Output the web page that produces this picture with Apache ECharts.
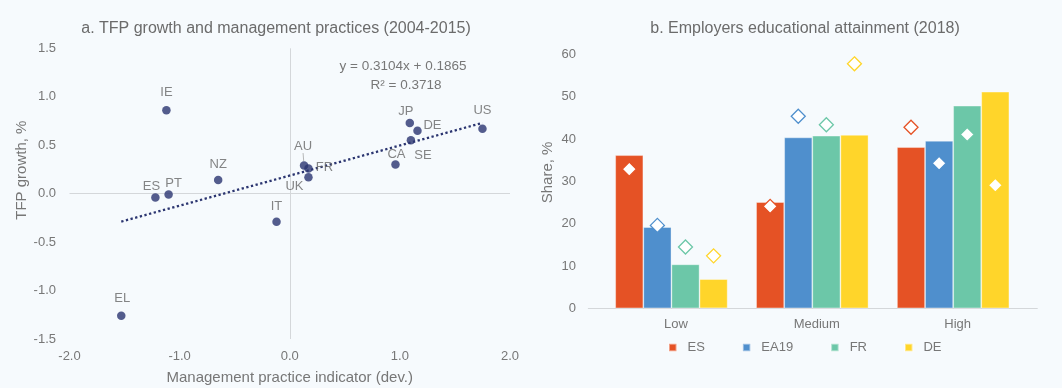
<!DOCTYPE html>
<html>
<head>
<meta charset="utf-8">
<script src="https://cdn.jsdelivr.net/npm/echarts@6/dist/echarts.min.js"></script>
<style>
  html, body { margin: 0; padding: 0; background: #F6FAFD; }
  #chart { width: 1062px; height: 388px; }
</style>
</head>
<body>
<div id="chart"></div>
<script>
// Panel a: countries, management practice indicator (dev.) and TFP growth (%)
const countries = ['IE', 'NZ', 'ES', 'PT', 'IT', 'EL', 'AU', 'FR', 'UK', 'CA', 'JP', 'DE', 'SE', 'US'];
const mgmtIndex = [-1.12, -0.65, -1.22, -1.10, -0.12, -1.53, 0.13, 0.17, 0.17, 0.96, 1.09, 1.16, 1.10, 1.75];
const tfpGrowth = [0.86, 0.14, -0.04, -0.01, -0.29, -1.26, 0.29, 0.26, 0.17, 0.30, 0.73, 0.65, 0.55, 0.67];
const trendSlope = 0.3104;
const trendIntercept = 0.1865;
const trendR2 = 0.3718;

// Panel b: employers' educational attainment shares (bars) and diamond markers
const levels = ['Low', 'Medium', 'High'];
const regions = ['ES', 'EA19', 'FR', 'DE'];
const barES = [36.2, 25.1, 38.1];
const barEA19 = [19.2, 40.4, 39.6];
const barFR = [10.4, 40.8, 47.9];
const barDE = [6.9, 41.0, 51.2];
const dotES = [32.9, 24.1, 42.8];
const dotEA19 = [19.6, 45.4, 34.3];
const dotFR = [14.5, 43.4, 41.1];
const dotDE = [12.4, 57.8, 29.1];

const barValues = [barES, barEA19, barFR, barDE];
const dotValues = [dotES, dotEA19, dotFR, dotDE];
const palette = ['#E55225', '#4F8FCD', '#6CC7A8', '#FFD52A'];

// label placement of each country tag around its dot (dx, dy in px)
const tagOffset = {
  IE: [0, -18], NZ: [0, -16], ES: [-4, -11], PT: [5, -11], IT: [0, -15],
  EL: [1, -17], AU: [-1, -19], FR: [16, -1], UK: [-14, 9], CA: [1, -10],
  JP: [-4, -11], DE: [15, -5], SE: [12, 15], US: [0, -18]
};

const FONT = "'Liberation Sans', Arial, sans-serif";
const GREY = '#777777';
const AXIS_LINE = '#D4D7DA';
const BAR_W = 28.1;
const DIAMOND_R = 7;

const scatterData = countries.map((c, i) => {
  const item = { name: c, value: [mgmtIndex[i], tfpGrowth[i]] };
  if (c === 'AU') {
    item.labelLine = { show: true, lineStyle: { color: '#9a9a9a', width: 0.7 } };
  }
  return item;
});

const xMin = Math.min(...mgmtIndex);
const xMax = Math.max(...mgmtIndex);
const trendData = [
  [xMin, trendSlope * xMin + trendIntercept],
  [xMax, trendSlope * xMax + trendIntercept]
];

const barSeries = regions.map((r, k) => ({
  type: 'bar',
  name: r,
  xAxisIndex: 1,
  yAxisIndex: 1,
  data: barValues[k],
  barWidth: BAR_W,
  barGap: '0%',
  itemStyle: { color: palette[k], borderColor: 'rgba(255,255,255,0.45)', borderWidth: 0.8 },
  z: 2
}));

// diamonds sit on the same slot as the bar of their region
const diamondSeries = regions.map((r, k) => ({
  type: 'custom',
  name: r,
  xAxisIndex: 1,
  yAxisIndex: 1,
  data: dotValues[k].map((v, i) => [i, v]),
  renderItem: (params, api) => {
    const p = api.coord([api.value(0), api.value(1)]);
    const x = p[0] + (k - 1.5) * BAR_W;
    const y = p[1];
    return {
      type: 'polygon',
      shape: { points: [[x, y - DIAMOND_R], [x + DIAMOND_R, y], [x, y + DIAMOND_R], [x - DIAMOND_R, y]] },
      style: { fill: '#FFFFFF', stroke: palette[k], lineWidth: 1.3 }
    };
  },
  z: 5
}));

const chart = echarts.init(document.getElementById('chart'), null, { renderer: 'canvas' });

chart.setOption({
  animation: false,
  backgroundColor: '#F6FAFD',
  textStyle: { fontFamily: FONT },
  title: [
    {
      text: 'a. TFP growth and management practices (2004-2015)',
      left: 271, top: 16, textAlign: 'center',
      textStyle: { fontFamily: FONT, fontSize: 16, fontWeight: 'normal', color: '#6B6B6B' }
    },
    {
      text: 'b. Employers educational attainment (2018)',
      left: 800, top: 16, textAlign: 'center',
      textStyle: { fontFamily: FONT, fontSize: 16, fontWeight: 'normal', color: '#6B6B6B' }
    }
  ],
  legend: {
    data: regions,
    left: 668, top: 341,
    padding: 0,
    icon: 'rect',
    itemWidth: 7.5, itemHeight: 7.5,
    itemGap: 37,
    textStyle: { fontFamily: FONT, fontSize: 13, color: GREY, padding: [0, 0, 0, 6] }
  },
  graphic: [
    {
      type: 'text',
      style: {
        text: 'y = ' + trendSlope.toFixed(4) + 'x + ' + trendIntercept.toFixed(4),
        x: 403, y: 66, align: 'center', verticalAlign: 'middle',
        font: '13.5px ' + FONT, fill: GREY
      }
    },
    {
      type: 'text',
      style: {
        text: 'R² = ' + trendR2.toFixed(4),
        x: 406, y: 85, align: 'center', verticalAlign: 'middle',
        font: '13.5px ' + FONT, fill: GREY
      }
    }
  ],
  grid: [
    { left: 69.5, right: 552, top: 48.3, bottom: 49, outerBoundsMode: 'none' },
    { left: 601, right: 38.4, top: 54.5, bottom: 79.7, outerBoundsMode: 'none' },
    { left: 588.3, right: 24.7, top: 54.5, bottom: 79.7, outerBoundsMode: 'none' }
  ],
  xAxis: [
    {
      gridIndex: 0, type: 'value', min: -2, max: 2, interval: 1,
      axisLine: { show: false }, axisTick: { show: false }, splitLine: { show: false },
      axisLabel: { fontSize: 13, color: GREY, margin: 11, formatter: v => v.toFixed(1) },
      name: 'Management practice indicator (dev.)',
      nameLocation: 'middle', nameGap: 31,
      nameTextStyle: { fontSize: 15, color: GREY }
    },
    {
      gridIndex: 1, type: 'category', data: levels,
      axisLine: { show: false }, axisTick: { show: false },
      axisLabel: { fontSize: 13, color: GREY, margin: 10, padding: [0, 0, 0, 9] }
    },
    {
      // baseline of panel b
      gridIndex: 2, type: 'value', min: 0, max: 1,
      axisLine: { show: true, lineStyle: { color: AXIS_LINE, width: 1 } },
      axisTick: { show: false }, axisLabel: { show: false }, splitLine: { show: false }
    }
  ],
  yAxis: [
    {
      gridIndex: 0, type: 'value', min: -1.5, max: 1.5, interval: 0.5,
      axisLine: { show: false }, axisTick: { show: false }, splitLine: { show: false },
      axisLabel: { fontSize: 13, color: GREY, margin: 13.5, formatter: v => v.toFixed(1) },
      name: 'TFP growth, %',
      nameLocation: 'middle', nameGap: 33,
      nameTextStyle: { fontSize: 15, color: GREY, padding: [0, 0, 0, 47] }
    },
    {
      gridIndex: 1, type: 'value', min: 0, max: 60, interval: 10,
      axisLine: { show: false }, axisTick: { show: false }, splitLine: { show: false },
      axisLabel: { fontSize: 13, color: GREY, margin: 25 },
      name: 'Share, %',
      nameLocation: 'middle', nameGap: 46,
      nameTextStyle: { fontSize: 15, color: GREY, padding: [0, 0, 0, 18] }
    },
    {
      gridIndex: 2, type: 'value', min: 0, max: 1, show: false
    }
  ],
  series: [
    {
      type: 'scatter',
      name: 'countries',
      xAxisIndex: 0, yAxisIndex: 0,
      data: scatterData,
      symbol: 'circle',
      symbolSize: 8.5,
      itemStyle: { color: '#2B3570' },
      label: {
        show: true, position: 'inside', formatter: '{b}',
        fontFamily: FONT, fontSize: 13, color: '#666666'
      },
      labelLayout: p => {
        const o = tagOffset[countries[p.dataIndex]];
        return { dx: o[0], dy: o[1] };
      },
      markLine: {
        silent: true,
        symbol: ['none', 'none'],
        label: { show: false },
        lineStyle: { color: AXIS_LINE, type: 'solid', width: 1 },
        data: [{ xAxis: 0 }, { yAxis: 0 }],
        z: 0
      },
      z: 4
    },
    {
      type: 'line',
      name: 'trend',
      xAxisIndex: 0, yAxisIndex: 0,
      data: trendData,
      symbol: 'none',
      lineStyle: { color: '#2B3570', width: 2.3, type: [2.3, 2.5] },
      z: 3
    },
    ...barSeries,
    ...diamondSeries
  ]
});
</script>
</body>
</html>
